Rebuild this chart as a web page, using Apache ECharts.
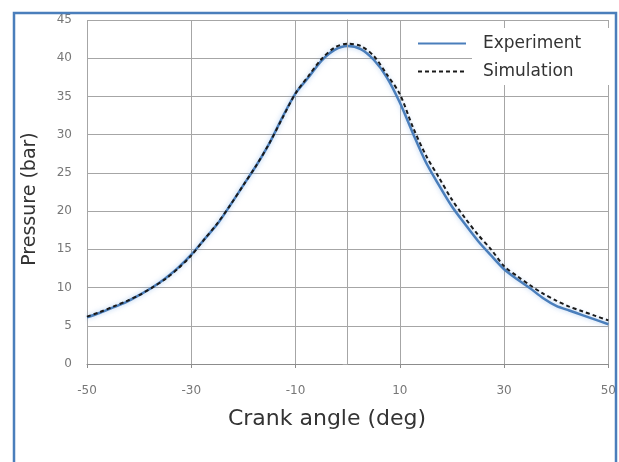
<!DOCTYPE html>
<html>
<head>
<meta charset="utf-8">
<script src="https://cdn.jsdelivr.net/npm/echarts@6/dist/echarts.min.js"></script>
<style>
html,body{margin:0;padding:0;background:#fff;}
#chart{width:619px;height:462px;}
</style>
</head>
<body>
<div id="chart"></div>
<script>
// Crank angle (deg)
const angles = [-50,-47.5,-45,-42.5,-40,-37.5,-35,-32.5,-30,-27.5,-25,-22.5,-20,-17.5,-15,-12.5,-10,-7.5,-5,-2.5,0,2.5,5,7.5,10,12.5,15,17.5,20,22.5,25,27.5,30,32.5,35,37.5,40,42.5,45,47.5,50];
// Pressure (bar) - measured
const experiment = [6.1,6.7,7.4,8.1,9.0,10.0,11.2,12.6,14.3,16.3,18.3,20.8,23.4,26.0,28.9,32.3,35.4,37.5,39.7,41.1,41.6,41.2,39.8,37.5,34.2,30.2,26.4,23.4,20.6,18.3,16.1,14.2,12.4,11.1,9.9,8.6,7.6,7.0,6.4,5.8,5.2];
// Pressure (bar) - simulated
const simulation = [6.2,6.8,7.5,8.2,9.0,10.0,11.1,12.5,14.2,16.3,18.4,20.8,23.4,26.0,28.9,32.2,35.4,37.7,39.9,41.4,41.9,41.6,40.3,37.9,35.3,31.0,27.3,24.4,21.5,19.1,16.9,15.0,12.8,11.5,10.3,9.2,8.3,7.5,6.9,6.3,5.7];
const xTitle = 'Crank angle (deg)';
const yTitle = 'Pressure (bar)';
const seriesNames = ['Experiment','Simulation'];

const chart = echarts.init(document.getElementById('chart'), null, {renderer:'canvas'});
const font = 'DejaVu Sans';
chart.setOption({
  backgroundColor:'#fff',
  animation:false,
  grid:{left:87,right:8,top:20,bottom:98,containLabel:false},
  xAxis:{
    type:'value',min:-50,max:50,interval:20,
    axisLine:{show:true,onZero:false,lineStyle:{color:'#8c8c8c',width:1}},
    axisTick:{show:true,length:4,lineStyle:{color:'#8c8c8c'}},
    axisLabel:{margin:21,color:'#777',fontFamily:font,fontSize:12},
    splitLine:{show:true,lineStyle:{color:'#a6a6a6',width:1}}
  },
  yAxis:{
    type:'value',min:0,max:45,interval:5,
    axisLine:{show:true,lineStyle:{color:'#8c8c8c',width:1}},
    axisTick:{show:true,length:5,lineStyle:{color:'#a6a6a6'}},
    axisLabel:{margin:15,color:'#777',fontFamily:font,fontSize:12},
    splitLine:{show:true,lineStyle:{color:'#a6a6a6',width:1}}
  },
  legend:{
    data:seriesNames,
    orient:'vertical',
    left:417,top:35,
    padding:0,
    itemWidth:48,itemHeight:14,itemGap:11,
    itemStyle:{opacity:0},
    textStyle:{color:'#333',fontFamily:font,fontSize:17,padding:[0,0,0,12]},
    z:5
  },
  graphic:[
    {type:'rect',shape:{x:472,y:28,width:140,height:57},style:{fill:'#fff'},silent:true,z:3},
    {type:'rect',shape:{x:14,y:13,width:602,height:470},style:{fill:'none',stroke:'#4a7ebb',lineWidth:2.5},silent:true,z:100},
    {type:'text',x:327,y:419,style:{text:xTitle,fill:'#333',font:'22px "DejaVu Sans"',textAlign:'center',textVerticalAlign:'middle'},silent:true},
    {type:'text',x:30,y:199,rotation:Math.PI/2,style:{text:yTitle,fill:'#333',font:'19px "DejaVu Sans"',textAlign:'center',textVerticalAlign:'middle'},silent:true}
  ],
  series:[
    {type:'line',data:[],z:1,silent:true,
     markLine:{silent:true,symbol:'none',label:{show:false},lineStyle:{color:'#a6a6a6',type:'solid',width:1},data:[{xAxis:0}]}},
    {name:seriesNames[0],type:'line',symbol:'none',smooth:0.3,z:3,
     data:angles.map((a,i)=>[a,experiment[i]]),
     lineStyle:{color:'#4a7ebb',width:2.5,shadowColor:'rgba(120,170,230,0.6)',shadowBlur:5},
     itemStyle:{color:'#4a7ebb'}},
    {name:seriesNames[1],type:'line',symbol:'none',smooth:0.3,z:4,
     data:angles.map((a,i)=>[a,simulation[i]]),
     lineStyle:{color:'#1a1a1a',width:2,type:[4,3]},
     itemStyle:{color:'#1a1a1a'}}
  ]
});
</script>
</body>
</html>
